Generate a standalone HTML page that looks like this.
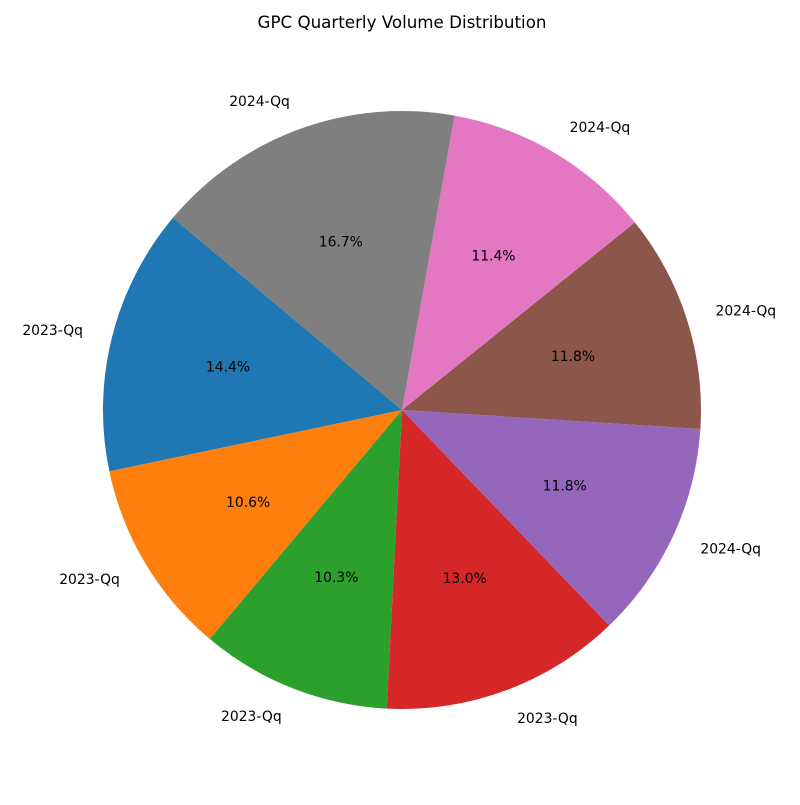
<!DOCTYPE html>
<html><head><meta charset="utf-8"><style>
body{margin:0;background:#fff;}
svg text{font-family:"DejaVu Sans","Liberation Sans",sans-serif;font-size:13.9px;fill:#000;}
</style></head><body>
<svg id="chart" width="800" height="800" viewBox="0 0 800 800">
<rect width="800" height="800" fill="#fff"/>
<text x="402" y="28" text-anchor="middle" style="font-size:16.7px">GPC Quarterly Volume Distribution</text>
<g id="slices"></g><g id="labels"></g>
</svg>
<script>
const categories = ["2023-Qq","2023-Qq","2023-Qq","2023-Qq","2024-Qq","2024-Qq","2024-Qq","2024-Qq"];
const values = [14.4,10.6,10.3,13.0,11.8,11.8,11.4,16.7];
const colors = ["#1f77b4","#ff7f0e","#2ca02c","#d62728","#9467bd","#8c564b","#e377c2","#7f7f7f"];
const cx=402, cy=410, R=299, startAngle=140;
const ns="http://www.w3.org/2000/svg";
const total=values.reduce((a,b)=>a+b,0);
const gS=document.getElementById('slices'), gL=document.getElementById('labels');
function pt(a,r){const t=a*Math.PI/180;return [cx+r*Math.cos(t), cy-r*Math.sin(t)];}
let a=startAngle;
values.forEach((v,i)=>{
  const sweep=v/total*360, a2=a+sweep, mid=a+sweep/2;
  const p1=pt(a,R), p2=pt(a2,R);
  const path=document.createElementNS(ns,'path');
  path.setAttribute('d',`M${cx},${cy} L${p1[0]},${p1[1]} A${R},${R} 0 ${sweep>180?1:0} 0 ${p2[0]},${p2[1]} Z`);
  path.setAttribute('fill',colors[i]);
  
  
  gS.appendChild(path);
  const lp=pt(mid,R*1.1);
  const t=document.createElementNS(ns,'text');
  t.setAttribute('x',lp[0]);t.setAttribute('y',lp[1]+5);
  t.setAttribute('text-anchor',Math.cos(mid*Math.PI/180)>=0?'start':'end');
  t.textContent=categories[i];
  
  
  gL.appendChild(t);
  const pp=pt(mid,R*0.6);
  const t2=document.createElementNS(ns,'text');
  t2.setAttribute('x',pp[0]);t2.setAttribute('y',pp[1]+5);
  t2.setAttribute('text-anchor','middle');
  t2.textContent=(v/total*100).toFixed(1)+'%';
  
  
  gL.appendChild(t2);
  a=a2;
});
</script>
</body></html>
